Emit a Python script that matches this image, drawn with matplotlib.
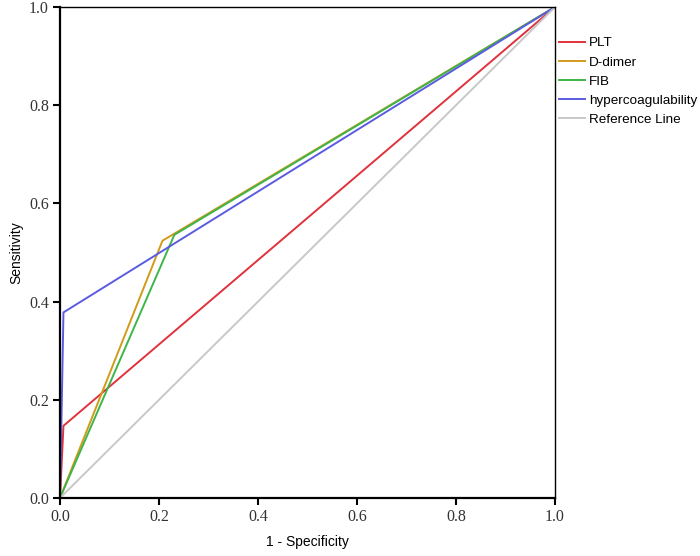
import numpy as np
import matplotlib.pyplot as plt

# ROC curves
names = ["PLT", "D-dimer", "FIB", "hypercoagulability"]
fpr_plt = [0.0, 0.007, 1.0]
tpr_plt = [0.0, 0.147, 1.0]
fpr_dd = [0.0, 0.207, 1.0]
tpr_dd = [0.0, 0.524, 1.0]
fpr_fib = [0.0, 0.231, 1.0]
tpr_fib = [0.0, 0.536, 1.0]
fpr_hyp = [0.0, 0.007, 1.0]
tpr_hyp = [0.0, 0.378, 1.0]
ref_line = [0.0, 1.0]
ticks = [0.0, 0.2, 0.4, 0.6, 0.8, 1.0]

colors = ["#e0323c", "#d19b1a", "#3db54a", "#5b5be0"]

plt.rcParams['font.serif'] = ['Liberation Serif', 'DejaVu Serif']
plt.rcParams['font.sans-serif'] = ['Liberation Sans', 'DejaVu Sans']

fig = plt.figure(figsize=(7, 5.56), dpi=100)
ax = fig.add_axes([60/700, 58/556, 495/700, 491/556])

ax.plot(fpr_plt, tpr_plt, color=colors[0], lw=1.4, label=names[0])
ax.plot(fpr_dd, tpr_dd, color=colors[1], lw=1.4, label=names[1])
ax.plot(fpr_fib, tpr_fib, color=colors[2], lw=1.4, label=names[2])
ax.plot(fpr_hyp, tpr_hyp, color=colors[3], lw=1.4, label=names[3])
ax.plot(ref_line, ref_line, color="#c8c8c8", lw=1.4, label="Reference Line")

ax.set_xlim(0, 1)
ax.set_ylim(0, 1)
ax.set_xticks(ticks)
ax.set_yticks(ticks)
ax.set_xticklabels(["%.1f" % t for t in ticks])
ax.set_yticklabels(["%.1f" % t for t in ticks])
ax.tick_params(direction="out", length=5, width=1.5, color="black", pad=3,
               labelsize=11.5, labelcolor="#333333")
for lab in ax.get_xticklabels() + ax.get_yticklabels():
    lab.set_fontfamily("serif")

for s in ["left", "bottom"]:
    ax.spines[s].set_linewidth(1.6)
for s in ["top", "right"]:
    ax.spines[s].set_linewidth(1.0)

ax.set_xlabel("1 - Specificity", family="sans-serif", fontsize=10, labelpad=7)
ax.set_ylabel("Sensitivity", family="sans-serif", fontsize=10, labelpad=4)

leg = fig.legend(loc="upper left", bbox_to_anchor=(559/700, 1 - 37/556), frameon=False,
                 prop={"family": "sans-serif", "size": 9.7},
                 handlelength=1.9, handletextpad=0.3, labelspacing=0.5,
                 borderaxespad=0.0, borderpad=0.0)

fig.savefig("out.png", dpi=100)
